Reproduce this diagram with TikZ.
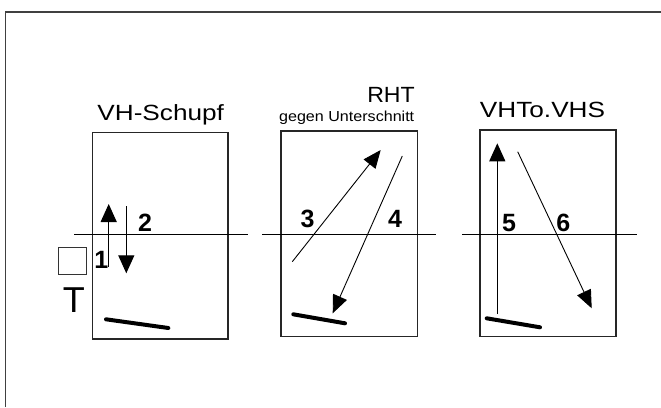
\documentclass[tikz,border=0pt]{standalone}
\usepackage{fontspec}
\setmainfont{Liberation Sans}
\usetikzlibrary{arrows.meta}
\tikzset{
  frame/.style={draw=black!75, line width=1.4pt},
  panel/.style={draw=black!85, line width=1.3pt},
  axis/.style={draw=black, line width=1pt},
  arr/.style={draw=black, line width=1.2pt, -{Triangle[length=18pt,width=16pt]}},
  thinarr/.style={draw=black, line width=0.9pt, -{Triangle[length=18pt,width=15pt]}},
  bar/.style={draw=black, line width=4pt, line cap=round},
  num/.style={font=\fontsize{25}{25}\selectfont\bfseries, anchor=base, inner sep=0pt},
  ttl/.style={font=\fontsize{22}{22}\selectfont, anchor=base, inner sep=0pt},
}
\begin{document}
\begin{tikzpicture}[x=1pt,y=-1pt]
\useasboundingbox (0,0) rectangle (661,407);
% outer frame (top and left edges)
\draw[frame] (5.5,407) -- (5.5,12) -- (661,12);

% panel 1
\node[panel, minimum width=135.3pt, minimum height=206.3pt, inner sep=0pt] (p1) at (160.35,235.85) {};
\node[ttl, xscale=1.19] (t1) at (160.7,120) {VH-Schupf};
\coordinate (h1a) at (74,234.5); \coordinate (h1b) at (248,234.5);
\draw[axis] (h1a) -- (h1b);
\coordinate (a1s) at (108.7,266.7); \coordinate (a1e) at (108.7,204);
\coordinate (a2s) at (126.3,206); \coordinate (a2e) at (126.3,273.3);
\draw[arr] (a1s) -- (a1e);
\draw[arr] (a2s) -- (a2e);
\node[num] (n1) at (101.3,268.3) {1};
\node[num] (n2) at (145,231.7) {2};
\node[draw=black!80, line width=1pt, minimum width=28.4pt, minimum height=26.3pt, inner sep=0pt] (sq) at (72.5,260.85) {};
\node[font=\fontsize{36}{36}\selectfont, anchor=base, inner sep=0pt] (T) at (73.8,312.7) {T};
\coordinate (b1s) at (106,319.3); \coordinate (b1e) at (168.3,328);
\draw[bar] (b1s) -- (b1e);

% panel 2
\node[panel, minimum width=136.3pt, minimum height=205.7pt, inner sep=0pt] (p2) at (349.15,233.85) {};
\node[ttl, xscale=1.05] (t2) at (391,102.7) {RHT};
\node[font=\fontsize{14.5}{14.5}\selectfont, anchor=base, inner sep=0pt, xscale=1.11] (t2b) at (346.7,121.7) {gegen Unterschnitt};
\coordinate (h2a) at (262.3,234.5); \coordinate (h2b) at (435.7,234.5);
\draw[axis] (h2a) -- (h2b);
\coordinate (a3s) at (292.3,261.7); \coordinate (a3e) at (380.7,150);
\coordinate (a4s) at (402.3,156); \coordinate (a4e) at (332.7,313.3);
\draw[thinarr] (a3s) -- (a3e);
\draw[thinarr] (a4s) -- (a4e);
\node[num] (n3) at (307.5,227.7) {3};
\node[num] (n4) at (395,227.7) {4};
\coordinate (b2s) at (293.3,314.3); \coordinate (b2e) at (345,323.3);
\draw[bar] (b2s) -- (b2e);

% panel 3
\node[panel, minimum width=136pt, minimum height=206.7pt, inner sep=0pt] (p3) at (548,233.35) {};
\node[ttl, xscale=1.19] (t3) at (542.5,117.3) {VHTo.VHS};
\coordinate (h3a) at (462.3,234.5); \coordinate (h3b) at (636.7,234.5);
\draw[axis] (h3a) -- (h3b);
\coordinate (a5s) at (497.3,314); \coordinate (a5e) at (497.3,143.3);
\coordinate (a6s) at (517.7,151.7); \coordinate (a6e) at (591.7,308.3);
\draw[arr] (a5s) -- (a5e);
\draw[thinarr] (a6s) -- (a6e);
\node[num] (n5) at (509,231.7) {5};
\node[num] (n6) at (563.3,231.7) {6};
\coordinate (b3s) at (486.7,318.3); \coordinate (b3e) at (540,327.3);
\draw[bar] (b3s) -- (b3e);
\end{tikzpicture}
\end{document}
